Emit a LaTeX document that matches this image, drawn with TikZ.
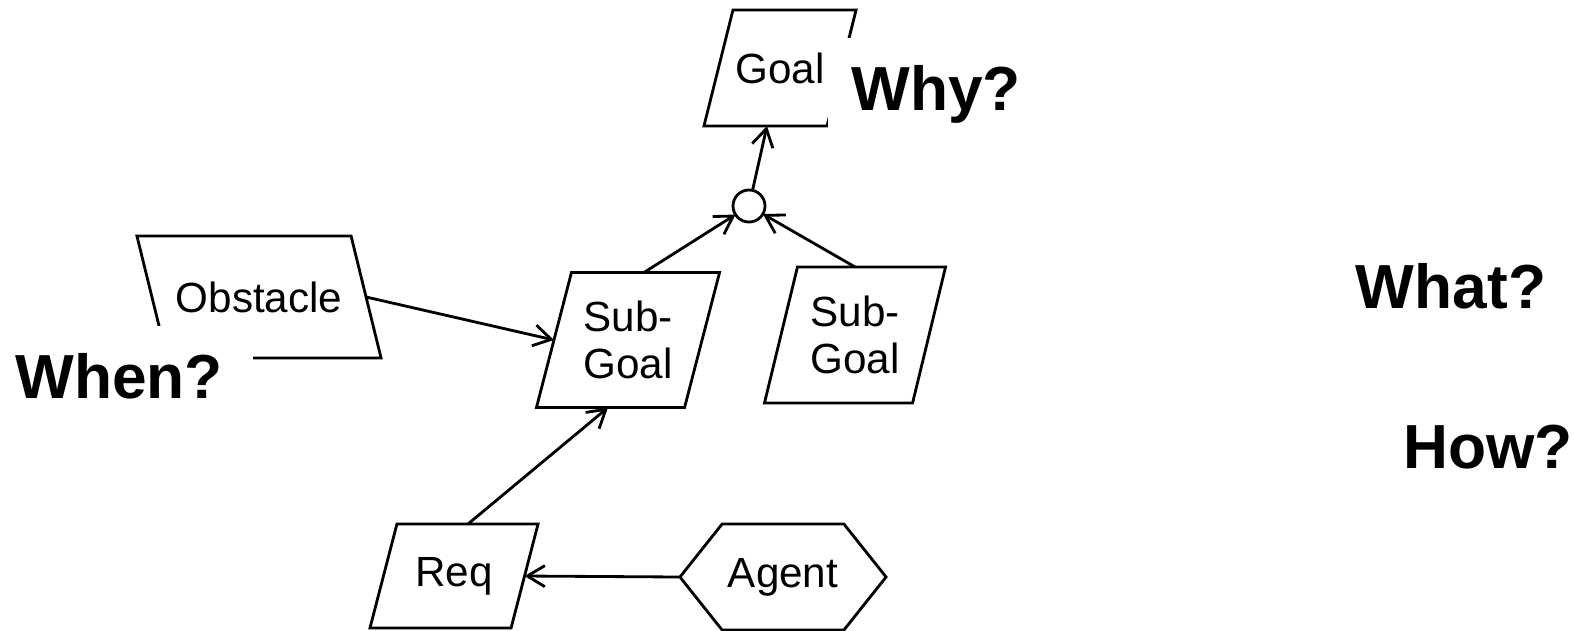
\documentclass[tikz,border=0pt]{standalone}
\usepackage{fontspec}
\setmainfont{Liberation Sans}
\usetikzlibrary{shapes.symbols}
\usetikzlibrary{arrows.meta}

\tikzset{
    goalbox/.style={rectangle, inner sep=0pt, outer sep=0pt, align=center,
        font=\fontsize{12}{13.4}\selectfont},
    agentbox/.style={draw, signal, signal to=west and east, signal pointer angle=103,
        inner sep=0pt, outer sep=0pt, font=\fontsize{12}{13.4}\selectfont},
    andnode/.style={draw, circle, minimum size=0.32cm, inner sep=0pt, outer sep=0pt},
    askq/.style={font=\fontsize{17.7}{20}\selectfont\bfseries, fill=white,
        inner xsep=0.2cm, inner ysep=0.27cm, anchor=base},
    link/.style={-{Straight Barb[length=5pt,width=6pt]}},
}

\begin{document}
\begin{tikzpicture}[x=0.01cm, y=0.01cm, line width=0.8pt]
    \useasboundingbox (0,-630) rectangle (1574,0);

    % goal tree
    \node[goalbox, minimum width=1.52cm, minimum height=1.16cm] (goal) at (780,-68) {Goal};
    \node[andnode] (and) at (749,-206) {};
    \node[goalbox, minimum width=1.83cm, minimum height=1.35cm] (sub1) at (628,-340) {Sub-\\Goal};
    \node[goalbox, minimum width=1.81cm, minimum height=1.36cm] (sub2) at (855,-335) {Sub-\\Goal};
    \node[goalbox, minimum width=2.44cm, minimum height=1.22cm] (obst) at (259,-297) {Obstacle};
    \node[goalbox, minimum width=1.68cm, minimum height=1.04cm] (req) at (454,-576) {Req};
    \node[agentbox, minimum width=2.06cm, minimum height=1.06cm] (agent) at (783,-577) {Agent};

    % parallelogram outlines (slant in px)
    \foreach \n/\s in {goal/29, sub1/35, sub2/33, req/27}
        \draw ([xshift=\s*0.01cm]\n.north west) -- (\n.north east)
            -- ([xshift=-\s*0.01cm]\n.south east) -- (\n.south west) -- cycle;
    \draw (obst.north west) -- ([xshift=-0.3cm]obst.north east)
        -- (obst.south east) -- ([xshift=0.3cm]obst.south west) -- cycle;

    \draw[link] (and) -- (goal);
    \draw[link] ([xshift=0.16cm]sub1.north) -- (and);
    \draw[link] (sub2.north) -- (and);
    \draw[link] ([xshift=-0.15cm]obst.east) -- ([xshift=0.175cm]sub1.west);
    \draw[link] ([xshift=0.14cm]req.north) -- ([xshift=-0.2cm]sub1.south);
    \draw[link] (agent.west) -- ([xshift=-0.135cm]req.east);

    % questions
    \node[askq, inner xsep=0.23cm] (why) at (936,-110) {Why?};
    \node[askq, inner xsep=0.3cm] (when) at (119,-398) {When?};
    \node[askq] (what) at (1451,-308) {What?};
    \node[askq] (how) at (1488,-468) {How?};
\end{tikzpicture}
\end{document}
